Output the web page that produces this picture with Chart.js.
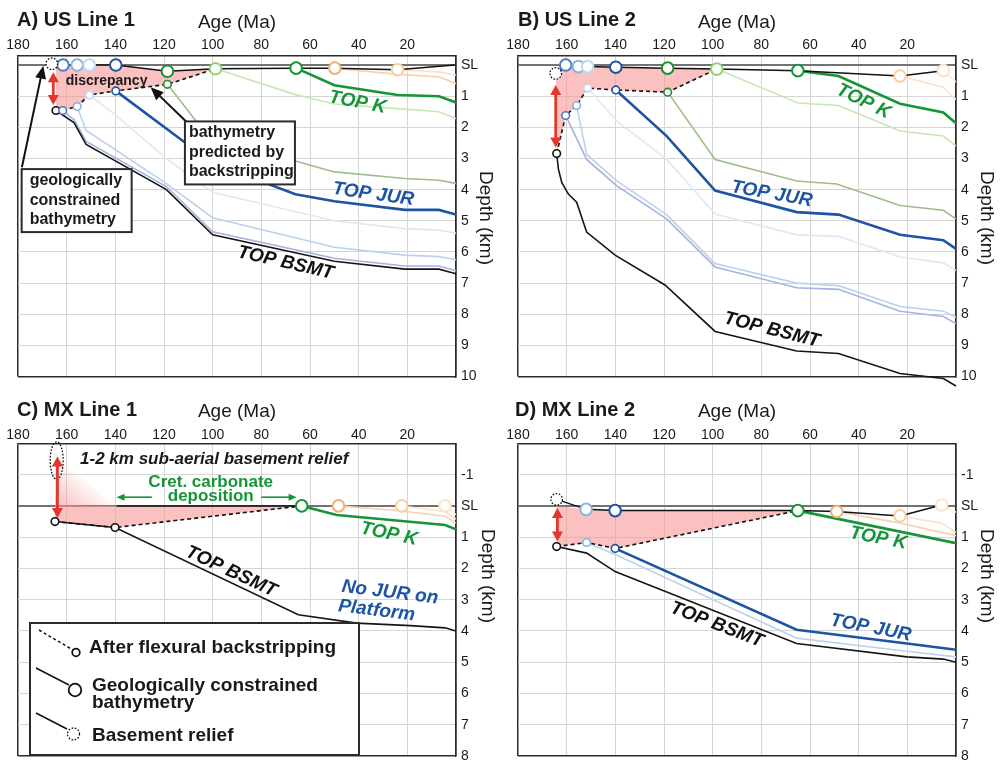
<!DOCTYPE html>
<html>
<head>
<meta charset="utf-8">
<script src="https://cdn.jsdelivr.net/npm/chart.js@4.4.1/dist/chart.umd.min.js"></script>
<style>
html, body { margin: 0; padding: 0; background: #fff; overflow: hidden; width: 1004px; height: 762px; }
canvas { position: absolute; }
</style>
</head>
<body>
<canvas id="pA" width="500" height="390" style="left:0;top:0;width:500px;height:390px"></canvas>
<canvas id="pB" width="504" height="390" style="left:500px;top:0;width:504px;height:390px"></canvas>
<canvas id="pC" width="500" height="380" style="left:0;top:390px;width:500px;height:380px"></canvas>
<canvas id="pD" width="504" height="380" style="left:500px;top:390px;width:504px;height:380px"></canvas>
<script>
// axis ticks
const ageTicks = [180, 160, 140, 120, 100, 80, 60, 40, 20, 0]
const depthTicksUS = [0, 1, 2, 3, 4, 5, 6, 7, 8, 9, 10]
const depthTicksMX = [-1, 0, 1, 2, 3, 4, 5, 6, 7, 8]

// every series is [age (Ma), depth (km)]
// A) US Line 1
const aGeo = [[166.1, -0.04], [161.5, 0], [155.7, 0], [150.7, 0], [139.8, 0], [118.6, 0.2], [98.8, 0.12], [65.7, 0.1], [49.8, 0.1], [24, 0.15], [0.5, 0]]
const aBack = [[164.4, 1.46], [161.6, 1.46], [155.7, 1.33], [150.7, 0.96], [139.8, 0.83], [118.6, 0.62], [98.8, 0.12]]
const aBsmt = [[164.4, 1.46], [157, 1.85], [152, 2.55], [119, 4.0], [100, 5.45], [50, 6.3], [21, 6.55], [7, 6.55], [0, 6.7]]
const aMid = [[161.6, 1.46], [157, 1.75], [152, 2.45], [119, 3.9], [100, 5.35], [50, 6.2], [21, 6.45], [7, 6.45], [0, 6.6]]
const aLight = [[155.7, 1.33], [152, 2.1], [120, 3.75], [100, 4.9], [50, 5.85], [21, 6.1], [7, 6.15], [0, 6.25]]
const aPale = [[150.7, 0.96], [140, 1.6], [119, 3.0], [100, 4.08], [50, 5.0], [21, 5.25], [7, 5.3], [0, 5.4]]
const aJur = [[139.8, 0.83], [100, 3.15], [66, 4.15], [50, 4.37], [21, 4.65], [7, 4.65], [0, 4.8]]
const aOlive = [[118.6, 0.62], [100, 2.48], [66, 3.08], [50, 3.43], [21, 3.64], [7, 3.7], [0, 3.8]]
const aLgreen = [[98.8, 0.12], [66, 0.95], [50, 1.25], [24, 1.4], [7, 1.5], [0, 1.72]]
const aTopK = [[65.7, 0.1], [50, 0.65], [24, 0.96], [7, 1.0], [0, 1.2]]
const aOrange = [[49.8, 0.1], [24, 0.3], [7, 0.38], [0, 0.6]]
const aPeach = [[24, 0.15], [7, 0.22], [0, 0.32]]
const aRedArrow = [165.5, 0.23, 1.28]

// B) US Line 2
const bGeo = [[164.5, 0.27], [160.4, 0], [155.2, 0.05], [151.4, 0.05], [139.8, 0.07], [118.5, 0.1], [98.3, 0.13], [65, 0.18], [23, 0.35], [5.2, 0.18]]
const bBack = [[164.1, 2.84], [160.4, 1.62], [155.9, 1.3], [151.4, 0.74], [139.8, 0.8], [118.5, 0.87], [98.3, 0.13]]
const bBsmt = [[164.1, 2.84], [163.4, 3.34], [162, 3.77], [159.3, 4.14], [155.9, 4.4], [151.8, 5.36], [140.1, 6.1], [119.6, 7.06], [99, 8.55], [65.5, 9.18], [48.3, 9.26], [23, 9.9], [5.2, 10.06], [0, 10.3]]
const bMid = [[160.4, 1.62], [151.8, 3.03], [139.4, 3.88], [118.9, 4.94], [99, 6.48], [65.5, 7.15], [48.3, 7.2], [23, 7.9], [5.2, 8.07], [0, 8.3]]
const bLight = [[155.9, 1.3], [151.8, 2.87], [139.4, 3.72], [118.9, 4.8], [99, 6.37], [65.5, 7.0], [48.3, 7.08], [23, 7.75], [5.2, 7.9], [0, 8.1]]
const bPale = [[151.4, 0.74], [139.4, 1.8], [118.9, 3.03], [99, 4.78], [65.5, 5.45], [48.3, 5.5], [23, 6.16], [5.2, 6.35], [0, 6.6]]
const bJur = [[139.8, 0.8], [118.9, 2.28], [99, 4.03], [65.5, 4.72], [48.3, 4.8], [23, 5.45], [5.2, 5.62], [0, 5.9]]
const bOlive = [[118.5, 0.87], [99, 3.03], [65.5, 3.72], [49, 3.82], [23, 4.51], [5.2, 4.66], [0, 4.94]]
const bLgreen = [[98.3, 0.13], [65, 1.22], [48.3, 1.3], [23, 2.12], [5.2, 2.28], [0, 2.6]]
const bTopK = [[65, 0.18], [48.3, 0.35], [23, 1.24], [5.2, 1.52], [0, 1.87]]
const bPeach = [[23, 0.35], [5.2, 0.71], [0, 1.1]]
const bCream = [[5.2, 0.18], [0, 0.55]]
const bRedArrow = [164.5, 0.64, 2.65]

// C) MX Line 1
const cGeo = [[139.4, 0], [63.4, 0], [48.3, 0], [22.3, 0], [4.5, 0]]
const cBack = [[164.8, 0.5], [140.1, 0.69], [63.4, 0]]
const cBsmt = [[164.8, 0.5], [140.1, 0.69], [64.8, 3.48], [40.8, 3.75], [18.7, 3.83], [4.5, 3.9], [0, 4.0]]
const cTopK = [[63.4, 0], [49, 0.29], [4.5, 0.61], [0, 0.75]]
const cOrange = [[48.3, 0], [22.3, 0.16], [4.5, 0.33], [0, 0.55]]
const cPeach = [[22.3, 0], [4.5, 0.18], [0, 0.42]]
const cCream = [[4.5, 0], [0, 0.28]]
const cRelief = [164.1, -2.05, -0.85]
const cRedArrow = [163.8, -1.58, 0.39]

// D) MX Line 2
const dGeo = [[164.1, -0.21], [152, 0.11], [140.1, 0.15], [65, 0.15], [49, 0.18], [23, 0.32], [5.9, -0.03]]
const dBack = [[164.1, 1.3], [151.8, 1.17], [140.1, 1.36], [65, 0.15]]
const dBsmt = [[164.1, 1.3], [151.8, 1.51], [140.1, 2.1], [65.5, 4.4], [20.2, 4.83], [5.2, 4.9], [0, 5.0]]
const dLight = [[151.8, 1.17], [139.4, 1.58], [65.5, 4.23], [20.2, 4.65], [0, 4.83]]
const dJur = [[140.1, 1.36], [65.5, 3.96], [20.2, 4.4], [0, 4.6]]
const dTopK = [[65, 0.15], [0, 1.19]]
const dOrange = [[49, 0.18], [23, 0.55], [0, 0.95]]
const dPeach = [[23, 0.32], [5.9, 0.55], [0, 0.85]]
const dCream = [[5.9, -0.03], [0, 0.2]]
const dRedArrow = [163.8, 0.07, 1.14]

const FF = '"Liberation Sans", Arial, Helvetica, sans-serif'
Chart.defaults.font.family = FF

const col = {
    bsmt: '#161616', mid: '#a7b2e1', midPt: '#4f7ac6', light: '#bbd2ec', lightPt: '#86b5e0',
    pale: '#dde9f6', palePt: '#c3d9ef', jur: '#1d54a4', olive: '#9ebd8b', olivePt: '#1f8c36',
    lgreen: '#c6e8b2', lgreenPt: '#8fd570', topk: '#169538', orange: '#f8d1b0', orangePt: '#f3ae74',
    peach: '#fde1c6', peachPt: '#fbcf9c', cream: '#feeedd', creamPt: '#fde3c6',
    frame: '#2b2b2b', grid: '#d5d5d5', sl: '#737373', red: '#e2372c', pink: 'rgba(248,150,150,0.6)'
}
const TOPFONT = 'italic bold 19px ' + FF

function drawArrow(ctx, x1, y1, x2, y2, o) {
    const ang = Math.atan2(y2 - y1, x2 - x1)
    const hl = o.head, hw = o.headW / 2
    ctx.save()
    ctx.strokeStyle = o.color
    ctx.fillStyle = o.color
    ctx.lineWidth = o.width
    ctx.beginPath()
    const s = o.both ? hl * 0.8 : 0
    ctx.moveTo(x1 + Math.cos(ang) * s, y1 + Math.sin(ang) * s)
    ctx.lineTo(x2 - Math.cos(ang) * hl * 0.8, y2 - Math.sin(ang) * hl * 0.8)
    ctx.stroke()
    const head = (x, y, a) => {
        ctx.beginPath()
        ctx.moveTo(x, y)
        ctx.lineTo(x - hl * Math.cos(a) + hw * Math.sin(a), y - hl * Math.sin(a) - hw * Math.cos(a))
        ctx.lineTo(x - hl * Math.cos(a) - hw * Math.sin(a), y - hl * Math.sin(a) + hw * Math.cos(a))
        ctx.closePath()
        ctx.fill()
    }
    head(x2, y2, ang)
    if (o.both) head(x1, y1, ang + Math.PI)
    ctx.restore()
}

function circle(ctx, x, y, r, dotted) {
    ctx.save()
    ctx.beginPath()
    ctx.arc(x, y, r, 0, Math.PI * 2)
    ctx.fillStyle = '#fff'
    ctx.fill()
    ctx.strokeStyle = '#111'
    ctx.lineWidth = dotted ? 1.3 : 1.8
    if (dotted) ctx.setLineDash([1.6, 1.6])
    ctx.stroke()
    ctx.restore()
}

function drawLegend(ctx, ca) {
    const bx = ca.left + 12, by = ca.bottom - 133, w = 329, h = 132
    ctx.save()
    ctx.fillStyle = '#fff'
    ctx.fillRect(bx, by, w, h)
    ctx.lineWidth = 2
    ctx.strokeStyle = col.frame
    ctx.strokeRect(bx, by, w, h)
    ctx.strokeStyle = '#111'
    ctx.lineWidth = 1.5
    ctx.setLineDash([3, 2.5])
    ctx.beginPath(); ctx.moveTo(bx + 9, by + 7); ctx.lineTo(bx + 43, by + 27); ctx.stroke()
    ctx.setLineDash([])
    circle(ctx, bx + 46, by + 29.5, 3.8)
    ctx.beginPath(); ctx.moveTo(bx + 6, by + 45); ctx.lineTo(bx + 39, by + 62); ctx.stroke()
    circle(ctx, bx + 45, by + 67, 6.3)
    ctx.beginPath(); ctx.moveTo(bx + 6, by + 90); ctx.lineTo(bx + 37, by + 106); ctx.stroke()
    circle(ctx, bx + 43.5, by + 111, 6, true)
    ctx.fillStyle = '#1a1a1a'
    ctx.font = 'bold 19px ' + FF
    ctx.textAlign = 'left'
    ctx.textBaseline = 'middle'
    ctx.fillText('After flexural backstripping', bx + 59, by + 25)
    ctx.fillText('Geologically constrained', bx + 62, by + 63)
    ctx.fillText('bathymetry', bx + 62, by + 80)
    ctx.fillText('Basement relief', bx + 62, by + 113)
    ctx.restore()
}

function overlay(p) {
    return {
        id: 'overlay',
        afterDatasetsDraw(chart) {
            const { ctx, chartArea: ca, scales: { x, y } } = chart
            const X = a => x.getPixelForValue(a), Y = d => y.getPixelForValue(d)
            ctx.save()
            if (p.basement) circle(ctx, X(p.basement[0]), Y(p.basement[1]), 5.8, true)
            if (p.relief) {
                const r = p.relief, cy = (Y(r[1]) + Y(r[2])) / 2
                ctx.save()
                ctx.beginPath()
                ctx.ellipse(X(r[0]), cy, 6.5, Math.abs(Y(r[2]) - Y(r[1])) / 2, 0, 0, Math.PI * 2)
                ctx.strokeStyle = '#111'; ctx.lineWidth = 1.3; ctx.setLineDash([1.6, 1.6])
                ctx.stroke()
                ctx.restore()
            }
            const ra = p.redArrow
            drawArrow(ctx, X(ra[0]), Y(ra[1]), X(ra[0]), Y(ra[2]), { color: col.red, width: 2.8, head: 10, headW: 11, both: true })
            ;(p.arrows || []).forEach(a => drawArrow(ctx, X(a.from[0]), Y(a.from[1]), X(a.to[0]), Y(a.to[1]), a.style))
            ;(p.boxes || []).forEach(b => {
                const bx = X(b.at[0]), by = Y(b.at[1])
                ctx.fillStyle = '#fff'
                ctx.fillRect(bx, by, b.w, b.h)
                ctx.lineWidth = 2
                ctx.strokeStyle = col.frame
                ctx.strokeRect(bx, by, b.w, b.h)
                ctx.fillStyle = '#1a1a1a'
                ctx.font = 'bold 16px ' + FF
                ctx.textAlign = 'left'
                ctx.textBaseline = 'middle'
                b.lines.forEach((t, i) => ctx.fillText(t, bx + b.pad, by + 11.5 + i * 19.5))
            })
            ;(p.labels || []).forEach(l => {
                ctx.save()
                ctx.translate(X(l.a), Y(l.d))
                ctx.rotate((l.rot || 0) * Math.PI / 180)
                ctx.font = l.font || TOPFONT
                ctx.fillStyle = l.color
                ctx.textAlign = l.align || 'center'
                ctx.textBaseline = 'middle'
                ctx.fillText(l.t, 0, 0)
                ctx.restore()
            })
            if (p.legend) drawLegend(ctx, ca)
            ctx.restore()
        },
        afterDraw(chart) {
            const ctx = chart.ctx
            ctx.save()
            ctx.fillStyle = '#1a1a1a'
            ctx.textBaseline = 'middle'
            ctx.textAlign = 'left'
            ctx.font = 'bold 20px ' + FF
            ctx.fillText(p.title, p.titleX, 20)
            ctx.translate(p.depthX, p.depthY)
            ctx.rotate(Math.PI / 2)
            ctx.font = '19px ' + FF
            ctx.textAlign = 'center'
            ctx.fillText('Depth (km)', 0, 0)
            ctx.restore()
        }
    }
}

function makePanel(p) {
    const transparent = 'rgba(0,0,0,0)'
    const datasets = []
    datasets.push({
        data: p.geo, borderColor: '#111', borderWidth: 1.5,
        segment: { borderColor: c => c.p0DataIndex >= (p.geoSolid === undefined ? 99 : p.geoSolid) ? transparent : '#111' },
        pointRadius: p.geoPts.map(c => c ? 5.8 : 0),
        pointBorderColor: p.geoPts.map(c => c || transparent),
        pointBackgroundColor: '#fff', pointBorderWidth: 2
    })
    datasets.push({
        data: p.back, borderColor: '#111', borderWidth: 1.6, borderDash: [4, 3],
        pointRadius: p.backPts.map(c => c ? 3.8 : 0),
        pointBorderColor: p.backPts.map(c => c || transparent),
        pointBackgroundColor: '#fff', pointBorderWidth: 1.6
    })
    p.horizons.forEach(h => {
        const ds = { data: h.data, borderColor: h.color, borderWidth: h.w || 1.6, pointRadius: 0 }
        if (h.noClip) ds.clip = false
        datasets.push(ds)
    })
    p.fills.forEach(f => datasets.push({
        data: f.data, fill: 'shape', backgroundColor: f.bg || col.pink,
        borderWidth: 0, borderColor: transparent, pointRadius: 0
    }))

    return new Chart(document.getElementById(p.canvas), {
        type: 'line',
        data: { datasets },
        options: {
            responsive: false,
            animation: false,
            events: [],
            layout: { padding: { left: 18, right: p.padRight, top: 0, bottom: p.padBottom } },
            plugins: { legend: { display: false }, tooltip: { enabled: false } },
            scales: {
                x: {
                    type: 'linear', position: 'top', min: 0, max: 180, reverse: true,
                    afterBuildTicks: s => { s.ticks = ageTicks.map(v => ({ value: v })) },
                    afterFit: s => { s.height = p.top },
                    ticks: {
                        callback: v => v === 0 ? '' : String(v),
                        font: { size: 14 }, color: '#1a1a1a', padding: p.tickPad,
                        maxRotation: 0, autoSkip: false
                    },
                    grid: {
                        drawTicks: false,
                        color: c => (c.tick.value === 180 || c.tick.value === 0) ? col.frame : col.grid,
                        lineWidth: c => (c.tick.value === 180 || c.tick.value === 0) ? 1.5 : 1
                    },
                    border: { color: col.frame, width: 1.5 },
                    title: { display: true, text: 'Age (Ma)', font: { size: 19 }, color: '#1a1a1a', padding: { top: p.titlePad, bottom: 0 } }
                },
                y: {
                    type: 'linear', position: 'right', min: p.yMin, max: p.yMax, reverse: true,
                    afterBuildTicks: s => { s.ticks = p.depthTicks.map(v => ({ value: v })) },
                    afterFit: s => { s.width = 44 },
                    ticks: {
                        callback: v => v === 0 ? 'SL' : String(v),
                        font: { size: 14 }, color: '#1a1a1a', padding: 5
                    },
                    grid: {
                        drawTicks: false,
                        color: c => c.tick.value === 0 ? col.sl : (c.tick.value === p.yMax ? col.frame : col.grid),
                        lineWidth: c => c.tick.value === 0 ? 2 : (c.tick.value === p.yMax ? 1.5 : 1)
                    },
                    border: { color: col.frame, width: 1.5 }
                }
            }
        },
        plugins: [overlay(p)]
    })
}

const usBase = { yMin: -0.29, yMax: 10, depthTicks: depthTicksUS, top: 56, padBottom: 11, tickPad: 2, titlePad: 11.5, depthY: 218 }
const mxBase = { yMin: -2, yMax: 8, depthTicks: depthTicksMX, top: 53.4, padBottom: 14, tickPad: 0, titlePad: 10.5, depthY: 186 }

makePanel(Object.assign({}, usBase, {
    canvas: 'pA', title: 'A) US Line 1', titleX: 17, padRight: 0, depthX: 485,
    geo: aGeo, geoPts: [null, col.midPt, col.lightPt, col.palePt, col.jur, col.olivePt, col.lgreenPt, col.topk, col.orangePt, col.peachPt, null],
    back: aBack, backPts: ['#111', col.midPt, col.lightPt, col.palePt, col.jur, col.olivePt, null],
    horizons: [
        { data: aJur, color: col.jur, w: 2.6 }, { data: aTopK, color: col.topk, w: 2.6 },
        { data: aBsmt, color: col.bsmt }, { data: aMid, color: col.mid }, { data: aLight, color: col.light },
        { data: aPale, color: col.pale }, { data: aOlive, color: col.olive }, { data: aLgreen, color: col.lgreen },
        { data: aOrange, color: col.orange }, { data: aPeach, color: col.peach }
    ],
    fills: [{ data: [[aBack[0][0], aGeo[1][1]], ...aGeo.slice(1, 7), ...aBack.slice().reverse()] }],
    basement: aGeo[0],
    redArrow: aRedArrow,
    arrows: [
        { from: [110.7, 1.83], to: [125.5, 0.71], style: { color: '#111', width: 2, head: 13, headW: 11 } },
        { from: [178.4, 3.28], to: [169.6, 0.02], style: { color: '#111', width: 2, head: 13, headW: 11 } }
    ],
    boxes: [
        { at: [111.4, 1.81], w: 110, h: 63, pad: 4, lines: ['bathymetry', 'predicted by', 'backstripping'] },
        { at: [178.5, 3.34], w: 110, h: 63, pad: 8, lines: ['geologically', 'constrained', 'bathymetry'] }
    ],
    labels: [
        { t: 'discrepancy', a: 143.6, d: 0.52, font: 'bold 14px ' + FF, color: '#1a1a1a' },
        { t: 'TOP K', a: 40.4, d: 1.2, rot: 11, color: col.topk },
        { t: 'TOP JUR', a: 34, d: 4.15, rot: 8, color: col.jur },
        { t: 'TOP BSMT', a: 70, d: 6.35, rot: 13, color: '#111' }
    ]
}))

makePanel(Object.assign({}, usBase, {
    canvas: 'pB', title: 'B) US Line 2', titleX: 18, padRight: 4, depthX: 486,
    geo: bGeo, geoPts: [null, col.midPt, col.lightPt, col.palePt, col.jur, col.olivePt, col.lgreenPt, col.topk, col.peachPt, col.creamPt],
    back: bBack, backPts: ['#111', col.midPt, col.lightPt, col.palePt, col.jur, col.olivePt, null],
    horizons: [
        { data: bJur, color: col.jur, w: 2.6 }, { data: bTopK, color: col.topk, w: 2.6 },
        { data: bBsmt, color: col.bsmt, noClip: true }, { data: bMid, color: col.mid }, { data: bLight, color: col.light },
        { data: bPale, color: col.pale }, { data: bOlive, color: col.olive }, { data: bLgreen, color: col.lgreen },
        { data: bPeach, color: col.peach }, { data: bCream, color: col.cream }
    ],
    fills: [{ data: [...bGeo.slice(0, 7), ...bBack.slice().reverse()] }],
    basement: bGeo[0],
    redArrow: bRedArrow,
    labels: [
        { t: 'TOP K', a: 38, d: 1.17, rot: 26, color: col.topk },
        { t: 'TOP JUR', a: 75.7, d: 4.14, rot: 10, color: col.jur },
        { t: 'TOP BSMT', a: 75.7, d: 8.5, rot: 14, color: '#111' }
    ]
}))

// the fan above sea level fades out towards the hypotenuse
function fanGradient(c) {
    const ch = c.chart
    if (!ch.chartArea) return col.pink
    const X = a => ch.scales.x.getPixelForValue(a), Y = d => ch.scales.y.getPixelForValue(d)
    const ax = X(cBack[0][0]), ay = Y(cRedArrow[1]), bx = X(cGeo[0][0]), by = Y(0)
    const cx = ax, cy = by
    const dx = bx - ax, dy = by - ay
    const t = ((cx - ax) * dx + (cy - ay) * dy) / (dx * dx + dy * dy)
    const g = ch.ctx.createLinearGradient(ax + t * dx, ay + t * dy, cx, cy)
    g.addColorStop(0, 'rgba(248,150,150,0.05)')
    g.addColorStop(1, 'rgba(248,150,150,0.65)')
    return g
}

makePanel(Object.assign({}, mxBase, {
    canvas: 'pC', title: 'C) MX Line 1', titleX: 17, padRight: 0, depthX: 487,
    geo: cGeo, geoSolid: 1, geoPts: [null, col.topk, col.orangePt, col.peachPt, col.creamPt],
    back: cBack, backPts: ['#111', '#111', null],
    horizons: [
        { data: cTopK, color: col.topk, w: 2.6 }, { data: cBsmt, color: col.bsmt },
        { data: cOrange, color: col.orange }, { data: cPeach, color: col.peach }, { data: cCream, color: col.cream }
    ],
    fills: [
        { data: [[cBack[0][0], 0], cGeo[1], cBack[1], cBack[0]] },
        { data: [[cBack[0][0], cRedArrow[1]], [cGeo[0][0], 0], [cBack[0][0], 0]], bg: fanGradient }
    ],
    relief: cRelief,
    redArrow: cRedArrow,
    arrows: [
        { from: [125, -0.28], to: [139.5, -0.28], style: { color: col.topk, width: 1.6, head: 8, headW: 7 } },
        { from: [80, -0.28], to: [65.5, -0.28], style: { color: col.topk, width: 1.6, head: 8, headW: 7 } }
    ],
    labels: [
        { t: '1-2 km sub-aerial basement relief', a: 154.5, d: -1.5, align: 'left', font: 'italic bold 17px ' + FF, color: '#1a1a1a' },
        { t: 'Cret. carbonate', a: 100.8, d: -0.76, font: 'bold 17px ' + FF, color: col.topk },
        { t: 'deposition', a: 100.8, d: -0.3, font: 'bold 17px ' + FF, color: col.topk },
        { t: 'TOP K', a: 27.5, d: 0.9, rot: 12, color: col.topk },
        { t: 'TOP BSMT', a: 92.4, d: 2.1, rot: 25, color: '#111' },
        { t: 'No JUR on', a: 27.1, d: 2.77, rot: 7, color: col.jur },
        { t: 'Platform', a: 32.6, d: 3.35, rot: 7, color: col.jur }
    ],
    legend: true
}))

makePanel(Object.assign({}, mxBase, {
    canvas: 'pD', title: 'D) MX Line 2', titleX: 15, padRight: 4, depthX: 486,
    geo: dGeo, geoPts: [null, col.lightPt, col.jur, col.topk, col.orangePt, col.peachPt, col.creamPt],
    back: dBack, backPts: ['#111', col.lightPt, col.jur, null],
    horizons: [
        { data: dJur, color: col.jur, w: 2.6 }, { data: dTopK, color: col.topk, w: 2.6 },
        { data: dBsmt, color: col.bsmt }, { data: dLight, color: col.light },
        { data: dOrange, color: col.orange }, { data: dPeach, color: col.peach }, { data: dCream, color: col.cream }
    ],
    fills: [{ data: [[dBack[0][0], 0], ...dGeo.slice(1, 4), ...dBack.slice().reverse()] }],
    basement: dGeo[0],
    redArrow: dRedArrow,
    labels: [
        { t: 'TOP K', a: 31.9, d: 1.03, rot: 11, color: col.topk },
        { t: 'TOP JUR', a: 35, d: 3.9, rot: 11, color: col.jur },
        { t: 'TOP BSMT', a: 98.3, d: 3.8, rot: 21, color: '#111' }
    ]
}))
</script>
</body>
</html>
